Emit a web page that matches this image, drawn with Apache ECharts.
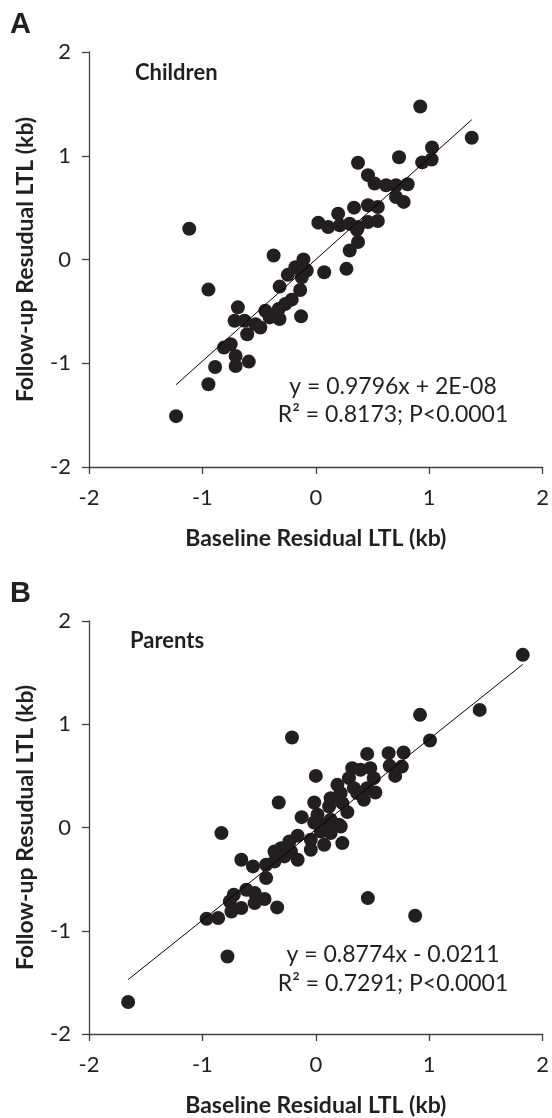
<!DOCTYPE html>
<html>
<head>
<meta charset="utf-8">
<script src="https://cdn.jsdelivr.net/npm/echarts@6/dist/echarts.min.js"></script>
<style>
  html, body { margin: 0; padding: 0; background: #fff; }
  #chart { width: 552px; height: 1118px; }
</style>
</head>
<body>
<div id="chart"></div>
<script>
// 数据: 儿童组 (A)
const childrenX = [-1.116, -0.372, -0.947, 0.022, -0.109, -0.18, -0.08, -0.247, -0.124, -0.319, -0.138, -0.212, -0.27, -0.13, -0.328, -0.445, -0.32, -0.407, -0.687, -0.716, -0.628, -0.532, -0.489, -0.605, -0.751, -0.81, -0.707, -0.591, -0.707, -0.888, -0.947, -1.232,
  0.921, 1.025, 0.938, 1.021, 0.734, 0.372, 0.46, 0.518, 0.62, 0.707, 0.81, 0.707, 0.775, 0.46, 0.547, 0.337, 0.197, 0.109, 0.212, 0.299, 0.372, 0.46, 0.547, 0.363, 0.372, 0.299, 0.27, 0.074, 1.375]
const childrenY = [0.297, 0.039, -0.29, 0.355, 0.0, -0.074, -0.106, -0.148, -0.171, -0.261, -0.294, -0.387, -0.43, -0.548, -0.477, -0.494, -0.574, -0.558, -0.461, -0.59, -0.59, -0.623, -0.655, -0.72, -0.816, -0.849, -0.929, -0.984, -1.026, -1.036, -1.203, -1.51,
  1.474, 1.08, 0.936, 0.964, 0.985, 0.932, 0.813, 0.733, 0.716, 0.716, 0.726, 0.603, 0.555, 0.523, 0.506, 0.5, 0.442, 0.313, 0.329, 0.345, 0.313, 0.361, 0.371, 0.287, 0.168, 0.087, -0.09, -0.123, 1.174]

// 数据: 父母组 (B)
const parentsX = [-0.21, 0.0, -0.327, -0.014, -0.125, -0.014, -0.832, -0.16, -0.233, -0.044, -0.044, -0.306, -0.364, -0.219, -0.16, -0.364, -0.277, -0.657, -0.554, -0.438, -0.438, -0.613, -0.539, -0.452, -0.539, -0.723, -0.758, -0.657, -0.744, -0.341, -0.861, -0.963, -0.779, -1.655,
  1.825, 1.445, 0.919, 1.007, 0.459, 0.876, 0.453, 0.642, 0.774, 0.651, 0.759, 0.7, 0.321, 0.394, 0.48, 0.292, 0.511, 0.19, 0.336, 0.453, 0.525, 0.219, 0.365, 0.424, 0.131, 0.234, 0.117, 0.278, 0.015, 0.131, 0.074, 0.205, 0.044, 0.131, 0.234, 0.074, 0.22]
const parentsY = [0.871, 0.5, 0.242, 0.242, 0.1, 0.048, -0.054, -0.08, -0.135, -0.119, -0.216, -0.2, -0.232, -0.232, -0.313, -0.329, -0.28, -0.313, -0.377, -0.361, -0.49, -0.603, -0.635, -0.693, -0.732, -0.652, -0.716, -0.78, -0.813, -0.774, -0.877, -0.884, -1.249, -1.69,
  1.672, 1.139, 1.091, 0.842, -0.684, -0.855, 0.713, 0.72, 0.726, 0.597, 0.59, 0.5, 0.575, 0.559, 0.575, 0.478, 0.478, 0.413, 0.381, 0.381, 0.339, 0.333, 0.333, 0.268, 0.284, 0.236, 0.203, 0.149, 0.123, 0.075, 0.026, 0.026, -0.039, -0.054, -0.151, -0.167, 0.01]

// 趋势线系数 (图中公式)
const trendA = [0.9796, 2e-8]
const trendB = [0.8774, -0.0211]
const axisTicks = [-2, -1, 0, 1, 2]

const pairs = (xs, ys) => xs.map((x, i) => [x, ys[i]])
const trendLine = (xs, coef) => {
  const lo = Math.min(...xs), hi = Math.max(...xs)
  return [[lo, coef[0] * lo + coef[1]], [hi, coef[0] * hi + coef[1]]]
}

const FONT = 'Lato, "Open Sans", sans-serif'
const ink = '#231f20'

const makeX = (idx) => ({
  type: 'value', gridIndex: idx, min: axisTicks[0], max: axisTicks[axisTicks.length - 1], interval: 1,
  name: 'Baseline Residual LTL (kb)', nameLocation: 'middle', nameGap: 60,
  nameTextStyle: { fontFamily: FONT, fontWeight: 'bold', fontSize: 23, color: ink },
  axisLine: { onZero: false, lineStyle: { color: '#404040', width: 1.3 } },
  axisTick: { inside: false, length: 7, lineStyle: { color: '#404040', width: 1.3 } },
  axisLabel: { fontFamily: FONT, fontSize: 22, color: ink, margin: 20 },
  splitLine: { show: false }
})
const makeY = (idx) => ({
  type: 'value', gridIndex: idx, min: axisTicks[0], max: axisTicks[axisTicks.length - 1], interval: 1,
  name: 'Follow-up Resudual LTL (kb)', nameLocation: 'middle', nameGap: 52,
  nameTextStyle: { fontFamily: FONT, fontWeight: 'bold', fontSize: 23, color: ink },
  axisLine: { show: true, onZero: false, lineStyle: { color: '#404040', width: 1.3 } },
  axisTick: { show: true, inside: false, length: 7, lineStyle: { color: '#404040', width: 1.3 } },
  axisLabel: { fontFamily: FONT, fontSize: 22, color: ink, margin: 18 },
  splitLine: { show: false }
})

const txt = (text, x, y, size, bold, align, family) => ({
  type: 'text', x: x, y: y,
  style: {
    text: text, fill: ink,
    font: (bold ? 'bold ' : '') + size + 'px ' + (family || FONT),
    textAlign: align || 'left', textVerticalAlign: 'middle',
    align: align || 'left', verticalAlign: 'middle'
  }
})

const myChart = echarts.init(document.getElementById('chart'))
const option = {
  animation: false,
  backgroundColor: '#fff',
  grid: [
    { left: 89, right: 6, top: 52, bottom: 651 },
    { left: 89, right: 6, top: 621, bottom: 84 }
  ],
  xAxis: [makeX(0), makeX(1)],
  yAxis: [makeY(0), makeY(1)],
  graphic: [
    txt('A', 10, 25, 29, true, 'left', '"Liberation Sans", Arial, sans-serif'),
    txt('Children', 135, 73, 22, true),
    txt('y = 0.9796x + 2E-08', 393, 387, 23, false, 'center'),
    txt('R² = 0.8173; P<0.0001', 393, 415, 23, false, 'center'),
    txt('B', 10, 594, 29, true, 'left', '"Liberation Sans", Arial, sans-serif'),
    txt('Parents', 130, 641, 22, true),
    txt('y = 0.8774x - 0.0211', 393, 955, 23, false, 'center'),
    txt('R² = 0.7291; P<0.0001', 393, 984, 23, false, 'center')
  ],
  series: [
    {
      type: 'scatter', xAxisIndex: 0, yAxisIndex: 0, symbolSize: 14,
      itemStyle: { color: ink, opacity: 1 },
      data: pairs(childrenX, childrenY)
    },
    {
      type: 'line', xAxisIndex: 0, yAxisIndex: 0, symbol: 'none', silent: true,
      lineStyle: { color: '#000', width: 1 },
      data: trendLine(childrenX, trendA)
    },
    {
      type: 'scatter', xAxisIndex: 1, yAxisIndex: 1, symbolSize: 14,
      itemStyle: { color: ink, opacity: 1 },
      data: pairs(parentsX, parentsY)
    },
    {
      type: 'line', xAxisIndex: 1, yAxisIndex: 1, symbol: 'none', silent: true,
      lineStyle: { color: '#000', width: 1 },
      data: trendLine(parentsX, trendB)
    }
  ]
}
option && myChart.setOption(option)
</script>
</body>
</html>
